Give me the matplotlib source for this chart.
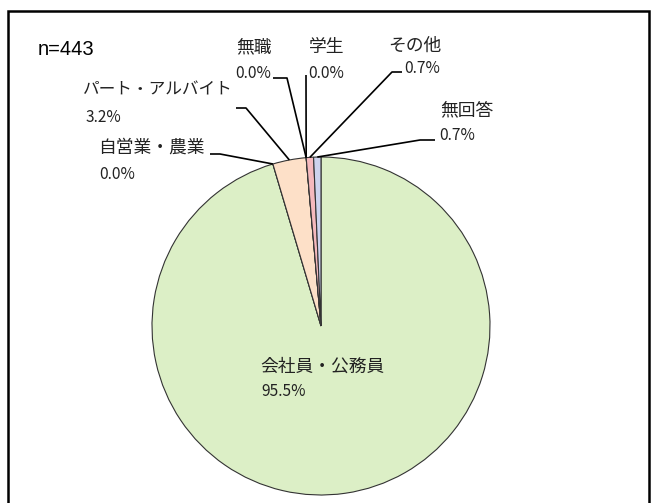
"""Pie chart of respondents by occupation (n=443)."""

import numpy as np
import matplotlib.pyplot as plt
from matplotlib.patches import Rectangle

plt.rcParams["font.family"] = ["Noto Sans CJK JP", "DejaVu Sans"]

# data, clockwise from 12 o'clock
categories = ["会社員・公務員", "自営業・農業", "パート・アルバイト", "無職", "学生", "その他", "無回答"]
shares = [95.5, 0.0, 3.2, 0.0, 0.0, 0.7, 0.7]
sample_size = 443

colors = ["#dcefc6", "#f0f0f0", "#fde0c8", "#d8d8d8", "#e0e0e0", "#f5b9bd", "#cdd3ee"]

W, H = 651, 503  # canvas in pixels, layout below is in pixel units (y from top)
PIE_CENTER = (321, 326)
PIE_RADIUS = 169

# name position, value position, leader line start and elbow (None = no leader)
layout = {
    "会社員・公務員": ((260, 367), (261, 391), None),
    "自営業・農業": ((98, 148), (99, 174), ((210, 154), (220, 154))),
    "パート・アルバイト": ((83, 90), (86, 117), ((236, 108), (246, 108))),
    "無職": ((236, 47), (235, 73), ((273, 78), (287, 78))),
    "学生": ((309, 47), (308, 73), ((306, 75), (306, 75))),
    "その他": ((388, 46), (404, 68), ((402, 72), (392, 72))),
    "無回答": ((440, 110), (439, 135), ((435, 140), (420, 140))),
}
# the long katakana label is set a little smaller so its full-width dots fit
name_size = {"パート・アルバイト": 12.0}


def flip(pt):
    return pt[0], H - pt[1]


fig = plt.figure(figsize=(W / 100, H / 100), dpi=100)
ax = fig.add_axes([0, 0, 1, 1])

wedges, _ = ax.pie(
    shares,
    colors=colors,
    startangle=90,
    counterclock=False,
    center=flip(PIE_CENTER),
    radius=PIE_RADIUS,
    wedgeprops=dict(edgecolor="#333333", linewidth=0.8),
)

cx, cy = flip(PIE_CENTER)
for wedge, name, share in zip(wedges, categories, shares):
    name_xy, value_xy, leader = layout[name]
    ax.text(*flip(name_xy), name, fontsize=name_size.get(name, 12.8),
            color="#222222", ha="left", va="center")
    ax.text(*flip(value_xy), f"{share:.1f}%", fontsize=11.2, color="#222222",
            ha="left", va="center")
    if leader is None:
        continue
    mid = np.deg2rad((wedge.theta1 + wedge.theta2) / 2)
    edge = (cx + PIE_RADIUS * np.cos(mid), cy + PIE_RADIUS * np.sin(mid))
    p0, p1 = flip(leader[0]), flip(leader[1])
    ax.plot([p0[0], p1[0], edge[0]], [p0[1], p1[1], edge[1]],
            color="black", linewidth=1.2, solid_capstyle="butt")

ax.text(38, H - 49, f"n={sample_size}", fontsize=14.5, color="black",
        family="Liberation Sans", ha="left", va="center")

ax.add_patch(Rectangle((8, -10), 641, H - 10 + 10 - 0.5, fill=False,
                       edgecolor="black", linewidth=1.8, clip_on=False))

ax.set_xlim(0, W)
ax.set_ylim(0, H)
ax.set_aspect("equal")
ax.axis("off")

fig.savefig("out.png", dpi=100)
